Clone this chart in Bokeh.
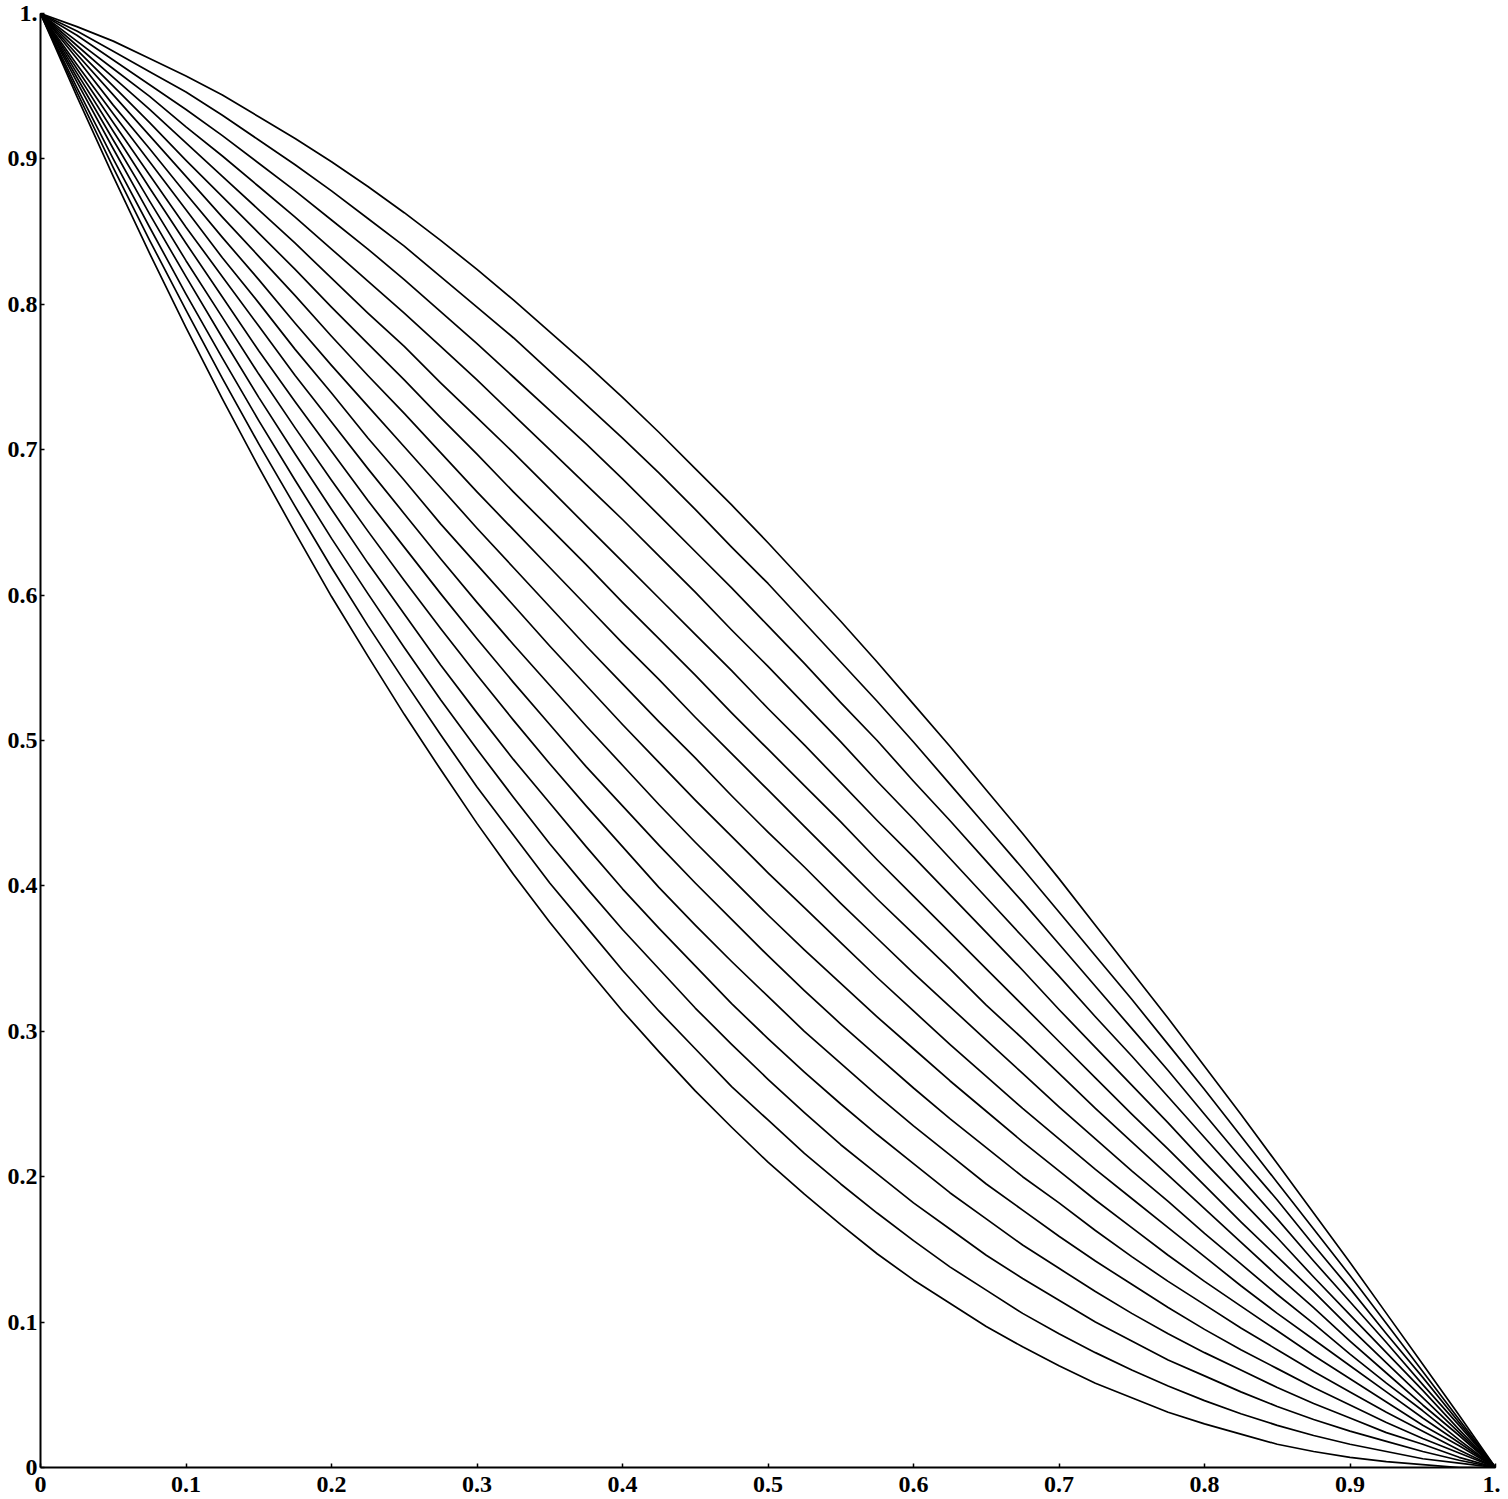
from bokeh.plotting import figure
from bokeh.models import Range1d, FixedTicker, CustomJSTickFormatter, ColumnDataSource
from bokeh.embed import file_html
from bokeh.resources import INLINE

# x positions at which each curve was read
x_grid = [0.0, 0.025, 0.05, 0.075, 0.10, 0.125, 0.15, 0.175, 0.20, 0.225, 0.25,
          0.275, 0.30, 0.325, 0.35, 0.375, 0.40, 0.425, 0.45, 0.475, 0.50,
          0.525, 0.55, 0.575, 0.60, 0.625, 0.65, 0.675, 0.70, 0.725, 0.75,
          0.775, 0.80, 0.825, 0.85, 0.875, 0.90, 0.925, 0.95, 0.975, 1.0]

# y values of the 16 curves (bottom curve first) at each x of x_grid
y_at_0000 = [1.0, 1.0, 1.0, 1.0, 1.0, 1.0, 1.0, 1.0, 1.0, 1.0, 1.0, 1.0, 1.0, 1.0, 1.0, 1.0]
y_at_0025 = [0.943, 0.946, 0.949, 0.953, 0.956, 0.959, 0.962, 0.965, 0.969, 0.972, 0.975, 0.978, 0.981, 0.985, 0.988, 0.991]
y_at_0050 = [0.888, 0.894, 0.900, 0.907, 0.913, 0.919, 0.925, 0.931, 0.937, 0.944, 0.950, 0.956, 0.962, 0.968, 0.974, 0.981]
y_at_0075 = [0.835, 0.844, 0.853, 0.862, 0.871, 0.880, 0.889, 0.898, 0.907, 0.916, 0.925, 0.934, 0.943, 0.951, 0.960, 0.969]
y_at_0100 = [0.784, 0.796, 0.807, 0.819, 0.830, 0.842, 0.853, 0.865, 0.876, 0.888, 0.899, 0.911, 0.922, 0.934, 0.946, 0.957]
y_at_0125 = [0.735, 0.749, 0.763, 0.777, 0.791, 0.805, 0.819, 0.832, 0.846, 0.860, 0.874, 0.888, 0.902, 0.916, 0.930, 0.944]
y_at_0150 = [0.688, 0.704, 0.720, 0.736, 0.752, 0.768, 0.785, 0.801, 0.817, 0.833, 0.849, 0.865, 0.881, 0.897, 0.913, 0.929]
y_at_0175 = [0.643, 0.661, 0.679, 0.697, 0.715, 0.733, 0.751, 0.769, 0.787, 0.806, 0.824, 0.842, 0.860, 0.878, 0.896, 0.914]
y_at_0200 = [0.599, 0.619, 0.639, 0.659, 0.679, 0.699, 0.719, 0.739, 0.758, 0.778, 0.798, 0.818, 0.838, 0.858, 0.878, 0.898]
y_at_0225 = [0.558, 0.579, 0.601, 0.622, 0.644, 0.665, 0.687, 0.708, 0.730, 0.751, 0.773, 0.794, 0.816, 0.838, 0.859, 0.881]
y_at_0250 = [0.518, 0.541, 0.564, 0.587, 0.610, 0.633, 0.656, 0.679, 0.702, 0.725, 0.748, 0.771, 0.794, 0.817, 0.840, 0.863]
y_at_0275 = [0.480, 0.504, 0.528, 0.552, 0.577, 0.601, 0.625, 0.649, 0.674, 0.698, 0.722, 0.746, 0.771, 0.795, 0.819, 0.844]
y_at_0300 = [0.443, 0.468, 0.494, 0.519, 0.545, 0.570, 0.595, 0.621, 0.646, 0.671, 0.697, 0.722, 0.748, 0.773, 0.798, 0.824]
y_at_0325 = [0.408, 0.435, 0.461, 0.487, 0.514, 0.540, 0.566, 0.593, 0.619, 0.645, 0.671, 0.698, 0.724, 0.750, 0.777, 0.803]
y_at_0350 = [0.375, 0.402, 0.429, 0.457, 0.484, 0.511, 0.538, 0.565, 0.592, 0.619, 0.646, 0.673, 0.700, 0.727, 0.754, 0.781]
y_at_0375 = [0.344, 0.372, 0.399, 0.427, 0.455, 0.482, 0.510, 0.538, 0.565, 0.593, 0.621, 0.648, 0.676, 0.704, 0.731, 0.759]
y_at_0400 = [0.314, 0.342, 0.370, 0.398, 0.427, 0.455, 0.483, 0.511, 0.539, 0.567, 0.595, 0.623, 0.652, 0.680, 0.708, 0.736]
y_at_0425 = [0.286, 0.314, 0.343, 0.371, 0.399, 0.428, 0.456, 0.485, 0.513, 0.542, 0.570, 0.598, 0.627, 0.655, 0.684, 0.712]
y_at_0450 = [0.259, 0.288, 0.316, 0.345, 0.373, 0.402, 0.430, 0.459, 0.488, 0.516, 0.545, 0.573, 0.602, 0.630, 0.659, 0.687]
y_at_0475 = [0.234, 0.262, 0.291, 0.319, 0.348, 0.377, 0.405, 0.434, 0.462, 0.491, 0.519, 0.548, 0.576, 0.605, 0.633, 0.662]
y_at_0500 = [0.210, 0.239, 0.267, 0.295, 0.324, 0.352, 0.380, 0.409, 0.437, 0.466, 0.494, 0.522, 0.551, 0.579, 0.608, 0.636]
y_at_0525 = [0.188, 0.216, 0.244, 0.272, 0.300, 0.328, 0.356, 0.385, 0.413, 0.441, 0.469, 0.497, 0.525, 0.553, 0.581, 0.609]
y_at_0550 = [0.167, 0.195, 0.222, 0.250, 0.278, 0.305, 0.333, 0.361, 0.388, 0.416, 0.444, 0.471, 0.499, 0.526, 0.554, 0.582]
y_at_0575 = [0.147, 0.175, 0.202, 0.229, 0.256, 0.283, 0.310, 0.337, 0.364, 0.391, 0.418, 0.445, 0.472, 0.500, 0.527, 0.554]
y_at_0600 = [0.129, 0.156, 0.182, 0.209, 0.235, 0.261, 0.288, 0.314, 0.340, 0.367, 0.393, 0.420, 0.446, 0.472, 0.499, 0.525]
y_at_0625 = [0.113, 0.138, 0.164, 0.189, 0.215, 0.240, 0.266, 0.291, 0.317, 0.343, 0.368, 0.394, 0.419, 0.445, 0.470, 0.496]
y_at_0650 = [0.097, 0.122, 0.146, 0.171, 0.195, 0.220, 0.245, 0.269, 0.294, 0.318, 0.343, 0.368, 0.392, 0.417, 0.441, 0.466]
y_at_0675 = [0.083, 0.106, 0.130, 0.153, 0.177, 0.200, 0.224, 0.247, 0.271, 0.295, 0.318, 0.342, 0.365, 0.389, 0.412, 0.436]
y_at_0700 = [0.070, 0.092, 0.115, 0.137, 0.159, 0.182, 0.204, 0.226, 0.248, 0.271, 0.293, 0.315, 0.338, 0.360, 0.382, 0.405]
y_at_0725 = [0.058, 0.079, 0.100, 0.121, 0.142, 0.163, 0.184, 0.205, 0.226, 0.247, 0.268, 0.289, 0.310, 0.331, 0.352, 0.373]
y_at_0750 = [0.048, 0.067, 0.087, 0.106, 0.126, 0.145, 0.165, 0.185, 0.204, 0.224, 0.243, 0.263, 0.283, 0.302, 0.322, 0.341]
y_at_0775 = [0.038, 0.056, 0.074, 0.092, 0.110, 0.128, 0.146, 0.165, 0.183, 0.201, 0.219, 0.237, 0.255, 0.273, 0.291, 0.309]
y_at_0800 = [0.030, 0.046, 0.063, 0.079, 0.095, 0.112, 0.128, 0.145, 0.161, 0.178, 0.194, 0.210, 0.227, 0.243, 0.260, 0.276]
y_at_0825 = [0.023, 0.037, 0.052, 0.067, 0.081, 0.096, 0.111, 0.125, 0.140, 0.155, 0.169, 0.184, 0.199, 0.213, 0.228, 0.243]
y_at_0850 = [0.016, 0.029, 0.042, 0.055, 0.068, 0.081, 0.094, 0.106, 0.119, 0.132, 0.145, 0.158, 0.171, 0.184, 0.196, 0.209]
y_at_0875 = [0.011, 0.022, 0.033, 0.044, 0.055, 0.066, 0.077, 0.088, 0.099, 0.110, 0.121, 0.131, 0.142, 0.153, 0.164, 0.175]
y_at_0900 = [0.007, 0.016, 0.025, 0.034, 0.043, 0.052, 0.061, 0.070, 0.078, 0.087, 0.096, 0.105, 0.114, 0.123, 0.132, 0.141]
y_at_0925 = [0.004, 0.011, 0.018, 0.024, 0.031, 0.038, 0.045, 0.052, 0.058, 0.065, 0.072, 0.079, 0.086, 0.092, 0.099, 0.106]
y_at_0950 = [0.002, 0.006, 0.011, 0.016, 0.020, 0.025, 0.029, 0.034, 0.039, 0.043, 0.048, 0.053, 0.057, 0.062, 0.066, 0.071]
y_at_0975 = [0.000, 0.003, 0.005, 0.007, 0.010, 0.012, 0.015, 0.017, 0.019, 0.022, 0.024, 0.026, 0.029, 0.031, 0.033, 0.036]
y_at_1000 = [0.0, 0.0, 0.0, 0.0, 0.0, 0.0, 0.0, 0.0, 0.0, 0.0, 0.0, 0.0, 0.0, 0.0, 0.0, 0.0]

tick_values = [0.0, 0.1, 0.2, 0.3, 0.4, 0.5, 0.6, 0.7, 0.8, 0.9, 1.0]

rows = [y_at_0000, y_at_0025, y_at_0050, y_at_0075, y_at_0100, y_at_0125,
        y_at_0150, y_at_0175, y_at_0200, y_at_0225, y_at_0250, y_at_0275,
        y_at_0300, y_at_0325, y_at_0350, y_at_0375, y_at_0400, y_at_0425,
        y_at_0450, y_at_0475, y_at_0500, y_at_0525, y_at_0550, y_at_0575,
        y_at_0600, y_at_0625, y_at_0650, y_at_0675, y_at_0700, y_at_0725,
        y_at_0750, y_at_0775, y_at_0800, y_at_0825, y_at_0850, y_at_0875,
        y_at_0900, y_at_0925, y_at_0950, y_at_0975, y_at_1000]
curves_y = [list(c) for c in zip(*rows)]
curves_x = [list(x_grid) for _ in curves_y]

p = figure(width=1500, height=1498, output_backend="svg", toolbar_location=None,
           x_range=Range1d(0, 1), y_range=Range1d(0, 1))
p.min_border_left = 40
p.min_border_right = 5
p.min_border_top = 13
p.min_border_bottom = 31
p.outline_line_color = None
p.grid.grid_line_color = None
p.background_fill_color = "white"
p.border_fill_color = "white"

src = ColumnDataSource(dict(xs=curves_x, ys=curves_y))
p.multi_line("xs", "ys", source=src, line_color="black", line_width=1.7,
             line_join="round")

fmt = CustomJSTickFormatter(code="""
if (Math.abs(tick) < 1e-9) return "0";
if (Math.abs(tick - 1) < 1e-9) return "1.";
return tick.toFixed(1);
""")

for ax in (p.xaxis[0], p.yaxis[0]):
    ax.ticker = FixedTicker(ticks=tick_values)
    ax.formatter = fmt
    ax.axis_line_color = "black"
    ax.axis_line_width = 2
    ax.major_tick_in = 4
    ax.major_tick_out = 0
    ax.major_tick_line_width = 1.5
    ax.minor_tick_line_color = None
    ax.major_label_text_font = "Liberation Serif"
    ax.major_label_text_font_style = "bold"
    ax.major_label_text_font_size = "24px"
    ax.major_label_text_color = "black"

p.xaxis.major_label_standoff = 9
p.yaxis.major_label_standoff = 3

open("out.html", "w").write(file_html(p, INLINE))
